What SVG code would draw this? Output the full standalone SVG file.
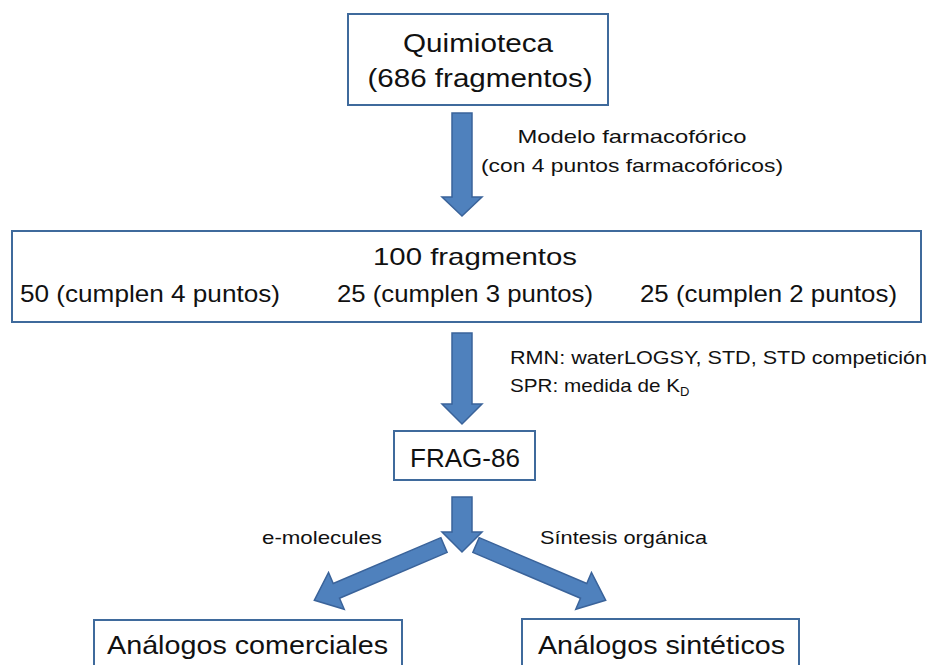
<svg xmlns="http://www.w3.org/2000/svg" width="929" height="665" viewBox="0 0 929 665">
<style>
.box{fill:#fff;stroke:#3F6A9C;stroke-width:2}
.arr{fill:#4F81BD;stroke:#3A639A;stroke-width:1.5;stroke-linejoin:miter}
text{font-family:"Liberation Sans",Arial,sans-serif;fill:#111}
.big{font-size:26px}
.mid{font-size:24px}
.sm{font-size:19px}
</style>
<rect width="929" height="665" fill="#fff"/>
<g id="quimioteca">
<rect class="box" x="348" y="14" width="260" height="91"/>
<text class="big" x="478" y="52" text-anchor="middle" textLength="150" lengthAdjust="spacingAndGlyphs">Quimioteca</text>
<text class="big" x="480" y="87" text-anchor="middle" textLength="225" lengthAdjust="spacingAndGlyphs">(686 fragmentos)</text>
</g>
<g id="cien">
<rect class="box" x="12" y="231" width="909" height="91"/>
<text class="mid" x="475" y="265" text-anchor="middle" textLength="204" lengthAdjust="spacingAndGlyphs">100 fragmentos</text>
<text class="mid" x="20" y="302" textLength="260" lengthAdjust="spacingAndGlyphs">50 (cumplen 4 puntos)</text>
<text class="mid" x="337" y="302" textLength="256" lengthAdjust="spacingAndGlyphs">25 (cumplen 3 puntos)</text>
<text class="mid" x="640" y="302" textLength="257" lengthAdjust="spacingAndGlyphs">25 (cumplen 2 puntos)</text>
</g>
<g id="frag86">
<rect class="box" x="394" y="431" width="141" height="49"/>
<text class="big" x="465" y="467" text-anchor="middle" textLength="110" lengthAdjust="spacingAndGlyphs">FRAG-86</text>
</g>
<g id="comerciales">
<rect class="box" x="94" y="620" width="308" height="60"/>
<text class="big" x="107" y="654" textLength="281" lengthAdjust="spacingAndGlyphs">Análogos comerciales</text>
</g>
<g id="sinteticos">
<rect class="box" x="522" y="619" width="277" height="60"/>
<text class="big" x="538" y="654" textLength="247" lengthAdjust="spacingAndGlyphs">Análogos sintéticos</text>
</g>
<g id="connectors">
<polygon class="arr" points="452,113 472,113 472,197 482,197 462,216 442,197 452,197"/>
<polygon class="arr" points="452,333 472,333 472,404 482,404 462,424 442,404 452,404"/>
<polygon class="arr" points="452,497 472,497 472,532 482,532 462,552 442,532 452,532"/>
<polygon class="arr" transform="translate(444,545) rotate(156.9)" points="0,-8 117,-8 117,-20 141,0 117,20 117,8 0,8"/>
<polygon class="arr" transform="translate(476,545) rotate(23.1)" points="0,-8 117,-8 117,-20 141,0 117,20 117,8 0,8"/>
<text class="sm" x="632" y="143" text-anchor="middle" textLength="229" lengthAdjust="spacingAndGlyphs">Modelo farmacofórico</text>
<text class="sm" x="632" y="172" text-anchor="middle" textLength="302" lengthAdjust="spacingAndGlyphs">(con 4 puntos farmacofóricos)</text>
<text class="sm" x="510" y="364" textLength="417" lengthAdjust="spacingAndGlyphs">RMN: waterLOGSY, STD, STD competición</text>
<text class="sm" x="510" y="392"><tspan textLength="170" lengthAdjust="spacingAndGlyphs">SPR: medida de K</tspan><tspan font-size="13" dy="4">D</tspan></text>
<text class="sm" x="262" y="544" textLength="120" lengthAdjust="spacingAndGlyphs">e-molecules</text>
<text class="sm" x="540" y="544" textLength="167" lengthAdjust="spacingAndGlyphs">Síntesis orgánica</text>
</g>
</svg>
